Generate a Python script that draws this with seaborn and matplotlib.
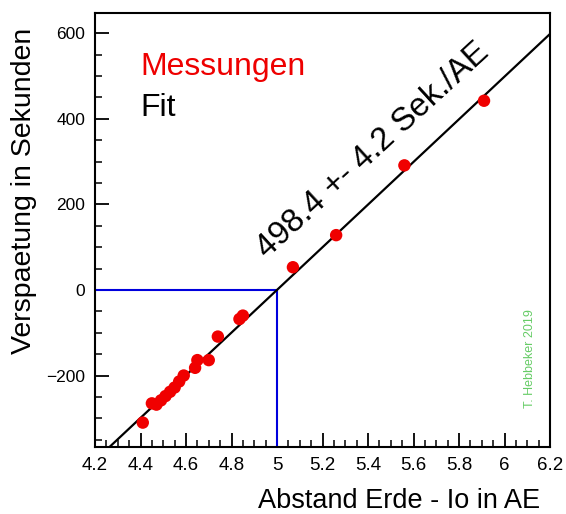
import numpy as np
import pandas as pd
import matplotlib
matplotlib.use("Agg")
import matplotlib.pyplot as plt
import seaborn as sns
from matplotlib.ticker import MultipleLocator, FormatStrFormatter

# ---- data ----
abstand = [4.41, 4.45, 4.47, 4.49, 4.51, 4.53, 4.55, 4.57, 4.59, 4.64, 4.65,
           4.70, 4.74, 4.835, 4.85, 5.07, 5.26, 5.56, 5.91]
verspaetung = [-310, -265, -268, -258, -248, -238, -228, -214, -200, -182, -164,
               -164, -109, -68, -60, 53, 128, 291, 442]
fit_slope = 498.4
fit_x0 = 5.0
fit_x = [4.2, 6.2]
ref_x = 5.0
ref_y = 0.0

sns.set_theme(style="ticks")
plt.rcParams['font.family'] = ['Liberation Sans', 'DejaVu Sans']

fig = plt.figure(figsize=(5.66, 5.14), dpi=100)
ax = fig.add_axes([95/566, 1-447/514, (550-95)/566, (447-13)/514])

xlim = (4.2, 6.2)
ylim = (-367, 647)

df = pd.DataFrame({"x": abstand, "y": verspaetung})
fit_df = pd.DataFrame({"x": fit_x, "y": [fit_slope*(v - fit_x0) for v in fit_x]})

# blue reference lines
ax.plot([xlim[0], ref_x], [ref_y, ref_y], color="#0000dd", lw=1.5, zorder=1)
ax.plot([ref_x, ref_x], [ylim[0], ref_y], color="#0000dd", lw=1.5, zorder=1)

sns.lineplot(data=fit_df, x="x", y="y", color="black", lw=1.6, ax=ax, zorder=2)
sns.scatterplot(data=df, x="x", y="y", color="#f00000", s=80, edgecolor="none",
                ax=ax, zorder=3)

ax.set_xlim(*xlim)
ax.set_ylim(*ylim)

ax.xaxis.set_major_locator(MultipleLocator(0.2))
ax.xaxis.set_minor_locator(MultipleLocator(0.05))
ax.yaxis.set_major_locator(MultipleLocator(200))
ax.yaxis.set_minor_locator(MultipleLocator(50))
ax.xaxis.set_major_formatter(FormatStrFormatter('%g'))
ax.tick_params(which="major", direction="in", length=10, width=1.3,
               colors="black")
ax.tick_params(axis="x", which="major", labelsize=13.5, pad=7)
ax.tick_params(axis="y", which="major", labelsize=12.5, pad=7)
ax.tick_params(which="minor", direction="in", length=5, width=1.3)
ax.tick_params(top=False, right=False)
for s in ax.spines.values():
    s.set_linewidth(1.5)
    s.set_color("black")

ax.set_xlabel("")
ax.set_ylabel("")
fig.text(540/566, 1-501/514, "Abstand Erde - Io in AE", ha="right", va="center",
         fontsize=19.5, color="black")
fig.text(24/566, 1-191/514, "Verspaetung in Sekunden", ha="center", va="center",
         rotation=90, fontsize=20.5, color="black")

ax.text(4.398, 502, "Messungen", color="#ee0000", fontsize=23, ha="left", va="baseline")
ax.text(4.398, 406, "Fit", color="black", fontsize=23, ha="left", va="baseline")
ax.text(4.955, 72, "498.4 +- 4.2 Sek./AE", color="black", fontsize=23.5,
        rotation=42.5, rotation_mode="anchor", ha="left", va="baseline")
ax.text(6.112, -276, "T. Hebbeker 2019", color="#66cc66", fontsize=9,
        rotation=90, ha="center", va="bottom")

fig.savefig("out.png", dpi=100)
